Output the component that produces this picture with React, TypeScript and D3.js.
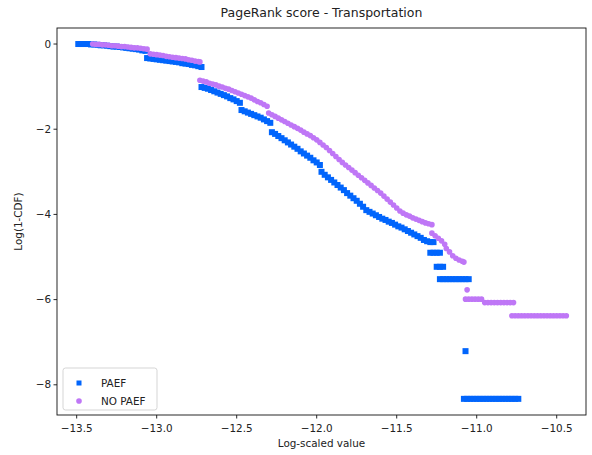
import React from "react";
import * as d3 from "d3";

// log(1-CDF) vs log-scaled PageRank value
const paef: [number, number][] = [
  [-13.49, 0], [-13.47, 0], [-13.45, 0], [-13.43, 0], [-13.41, -0.01], [-13.39, -0.01],
  [-13.37, -0.02], [-13.35, -0.03], [-13.33, -0.03], [-13.31, -0.04], [-13.29, -0.05],
  [-13.27, -0.06], [-13.25, -0.06], [-13.23, -0.07], [-13.21, -0.08], [-13.19, -0.09],
  [-13.17, -0.1], [-13.15, -0.11], [-13.13, -0.12], [-13.11, -0.13], [-13.09, -0.15], [-13.07, -0.16],
  [-13.06, -0.33], [-13.04, -0.34], [-13.02, -0.35], [-13.0, -0.36], [-12.98, -0.37], [-12.96, -0.38],
  [-12.94, -0.39], [-12.92, -0.4], [-12.9, -0.41], [-12.88, -0.42], [-12.86, -0.43], [-12.84, -0.45],
  [-12.82, -0.46], [-12.8, -0.47], [-12.78, -0.49], [-12.76, -0.5], [-12.74, -0.52], [-12.72, -0.54],
  [-12.72, -1.01], [-12.7, -1.03], [-12.68, -1.05], [-12.66, -1.08], [-12.64, -1.11], [-12.62, -1.14],
  [-12.6, -1.17], [-12.58, -1.2], [-12.56, -1.23], [-12.54, -1.27], [-12.52, -1.3], [-12.5, -1.34],
  [-12.48, -1.38],
  [-12.47, -1.55], [-12.45, -1.58], [-12.43, -1.61], [-12.41, -1.64], [-12.39, -1.67], [-12.37, -1.7],
  [-12.35, -1.73], [-12.33, -1.77], [-12.31, -1.81], [-12.29, -1.85],
  [-12.28, -2.07], [-12.26, -2.11], [-12.24, -2.16], [-12.22, -2.21], [-12.2, -2.26], [-12.18, -2.31],
  [-12.16, -2.36], [-12.14, -2.41], [-12.12, -2.46], [-12.1, -2.52], [-12.08, -2.57], [-12.06, -2.62],
  [-12.04, -2.67], [-12.02, -2.73], [-12.0, -2.78], [-11.98, -2.84],
  [-11.97, -3.0], [-11.95, -3.07], [-11.93, -3.13], [-11.91, -3.19], [-11.89, -3.25], [-11.87, -3.31],
  [-11.85, -3.37], [-11.83, -3.43], [-11.81, -3.5], [-11.79, -3.56], [-11.77, -3.62], [-11.75, -3.68],
  [-11.73, -3.75], [-11.71, -3.82], [-11.69, -3.9], [-11.67, -3.94], [-11.65, -3.98], [-11.63, -4.02],
  [-11.61, -4.06], [-11.59, -4.1], [-11.57, -4.13], [-11.55, -4.17], [-11.53, -4.2], [-11.51, -4.24],
  [-11.49, -4.28], [-11.47, -4.31], [-11.45, -4.35], [-11.43, -4.39], [-11.41, -4.43], [-11.39, -4.47],
  [-11.37, -4.51], [-11.35, -4.55], [-11.33, -4.6], [-11.31, -4.63], [-11.29, -4.65], [-11.27, -4.65],
  [-11.29, -4.9], [-11.27, -4.9], [-11.25, -4.9], [-11.23, -4.9],
  [-11.25, -5.23], [-11.23, -5.23], [-11.21, -5.23],
  [-11.23, -5.52], [-11.21, -5.52], [-11.19, -5.52], [-11.17, -5.52], [-11.15, -5.52], [-11.13, -5.52],
  [-11.11, -5.52], [-11.09, -5.52], [-11.07, -5.52], [-11.05, -5.52],
  [-11.07, -7.21],
  [-11.08, -8.33], [-11.06, -8.33], [-11.04, -8.33], [-11.02, -8.33], [-11.0, -8.33], [-10.98, -8.33],
  [-10.96, -8.33], [-10.94, -8.33], [-10.92, -8.33], [-10.9, -8.33], [-10.88, -8.33], [-10.86, -8.33],
  [-10.84, -8.33], [-10.82, -8.33], [-10.8, -8.33], [-10.78, -8.33], [-10.76, -8.33], [-10.74, -8.33],
];

const noPaef: [number, number][] = [
  [-13.4, 0], [-13.38, -0.01], [-13.36, -0.01], [-13.34, -0.02], [-13.32, -0.02], [-13.3, -0.03],
  [-13.28, -0.04], [-13.26, -0.04], [-13.24, -0.05], [-13.22, -0.06], [-13.2, -0.06], [-13.18, -0.07],
  [-13.16, -0.08], [-13.14, -0.09], [-13.12, -0.09], [-13.1, -0.1], [-13.08, -0.11], [-13.06, -0.12],
  [-13.04, -0.23], [-13.02, -0.24], [-13.0, -0.25], [-12.98, -0.26], [-12.96, -0.27], [-12.94, -0.29],
  [-12.92, -0.3], [-12.9, -0.31], [-12.88, -0.32], [-12.86, -0.33], [-12.84, -0.34], [-12.82, -0.35],
  [-12.8, -0.37], [-12.78, -0.38], [-12.76, -0.4], [-12.74, -0.41], [-12.73, -0.42],
  [-12.73, -0.85], [-12.71, -0.87], [-12.69, -0.89], [-12.67, -0.92], [-12.65, -0.94], [-12.63, -0.96],
  [-12.61, -0.99], [-12.59, -1.01], [-12.57, -1.04], [-12.55, -1.06], [-12.53, -1.09], [-12.51, -1.12],
  [-12.49, -1.15], [-12.47, -1.18], [-12.45, -1.21], [-12.43, -1.24], [-12.41, -1.27], [-12.39, -1.31],
  [-12.37, -1.35], [-12.35, -1.38], [-12.33, -1.42], [-12.31, -1.46],
  [-12.3, -1.62], [-12.28, -1.66], [-12.26, -1.7], [-12.24, -1.74], [-12.22, -1.78], [-12.2, -1.82],
  [-12.18, -1.86], [-12.16, -1.9], [-12.14, -1.94], [-12.12, -1.98], [-12.1, -2.02], [-12.08, -2.07],
  [-12.06, -2.11], [-12.04, -2.15], [-12.02, -2.2], [-12.0, -2.25],
  [-11.98, -2.31], [-11.96, -2.37], [-11.94, -2.43], [-11.92, -2.5], [-11.9, -2.57], [-11.88, -2.64],
  [-11.86, -2.71], [-11.84, -2.78], [-11.82, -2.84], [-11.8, -2.9], [-11.78, -2.96], [-11.76, -3.02],
  [-11.74, -3.08], [-11.72, -3.14], [-11.7, -3.2], [-11.68, -3.26], [-11.66, -3.32], [-11.64, -3.38],
  [-11.62, -3.44], [-11.6, -3.5], [-11.58, -3.57], [-11.56, -3.64], [-11.54, -3.71], [-11.52, -3.78],
  [-11.5, -3.85], [-11.48, -3.92], [-11.46, -3.97], [-11.44, -4.01], [-11.42, -4.04], [-11.4, -4.08],
  [-11.38, -4.11], [-11.36, -4.14], [-11.34, -4.17], [-11.32, -4.2], [-11.3, -4.22], [-11.28, -4.24],
  [-11.28, -4.44], [-11.26, -4.5], [-11.24, -4.56], [-11.22, -4.62], [-11.2, -4.7], [-11.19, -4.8],
  [-11.17, -4.88], [-11.15, -4.97], [-11.13, -5.03], [-11.11, -5.07], [-11.09, -5.1], [-11.08, -5.12],
  [-11.06, -5.77],
  [-11.07, -5.99], [-11.05, -5.99], [-11.03, -5.99], [-11.01, -5.99], [-10.99, -5.99], [-10.97, -5.99],
  [-10.95, -6.07], [-10.93, -6.07], [-10.91, -6.07], [-10.89, -6.07], [-10.87, -6.07], [-10.85, -6.07],
  [-10.83, -6.07], [-10.81, -6.07], [-10.79, -6.07], [-10.77, -6.07],
  [-10.78, -6.38], [-10.76, -6.38], [-10.74, -6.38], [-10.72, -6.38], [-10.7, -6.38], [-10.68, -6.38],
  [-10.66, -6.38], [-10.64, -6.38], [-10.62, -6.38], [-10.6, -6.38], [-10.58, -6.38], [-10.56, -6.38],
  [-10.54, -6.38], [-10.52, -6.38], [-10.5, -6.38], [-10.48, -6.38], [-10.46, -6.38], [-10.44, -6.38],
];

const xTicks = [-13.5, -13.0, -12.5, -12.0, -11.5, -11.0, -10.5];
const yTicks = [0, -2, -4, -6, -8];
const seriesNames = ["PAEF", "NO PAEF"];

const blue = "#0165fc";
const purple = "#bf77f6";
const font = "DejaVu Sans, sans-serif";

const fmt = (v: number, digits: number) =>
  (v < 0 ? "\u2212" : "") + Math.abs(v).toFixed(digits);

export default function App() {
  const left = 57, right = 586, top = 28, bottom = 415;

  const x = d3.scaleLinear().domain([-13.623, -10.317]).range([left, right]);
  const y = d3.scaleLinear().domain([-8.709, 0.376]).range([bottom, top]);

  const sq = 6;
  const circle = d3.symbol().type(d3.symbolCircle).size(25)();

  return (
    <svg width={592} height={455} style={{ position: "absolute", left: 0, top: 0, background: "#fff" }}
      fontFamily={font}>
      <text x={(left + right) / 2} y={17} textAnchor="middle" fontSize={12.5} fill="#222">
        PageRank score - Transportation
      </text>

      <g>
        {paef.map((d, i) => (
          <rect key={"p" + i} x={x(d[0]) - sq / 2} y={y(d[1]) - sq / 2} width={sq} height={sq} fill={blue} />
        ))}
        {noPaef.map((d, i) => (
          <path key={"n" + i} d={circle} transform={`translate(${x(d[0])},${y(d[1])})`} fill={purple} />
        ))}
      </g>

      <rect x={left} y={top} width={right - left} height={bottom - top} fill="none" stroke="#111" strokeWidth={0.9} />

      {xTicks.map((t) => (
        <g key={"xt" + t} transform={`translate(${x(t)},${bottom})`}>
          <line y2={3.5} stroke="#111" strokeWidth={0.9} />
          <text y={17} textAnchor="middle" fontSize={10.4} fill="#222">{fmt(t, 1)}</text>
        </g>
      ))}
      {yTicks.map((t) => (
        <g key={"yt" + t} transform={`translate(${left},${y(t)})`}>
          <line x2={-3.5} stroke="#111" strokeWidth={0.9} />
          <text x={-6} dy="0.35em" textAnchor="end" fontSize={10.4} fill="#222">{fmt(t, 0)}</text>
        </g>
      ))}

      <text x={(left + right) / 2} y={447} textAnchor="middle" fontSize={10.4} fill="#222">Log-scaled value</text>
      <text transform={`translate(22,${(top + bottom) / 2}) rotate(-90)`} textAnchor="middle" fontSize={10.4} fill="#222">
        Log(1-CDF)
      </text>

      <g>
        <rect x={63} y={368} width={94} height={42} rx={2.5} fill="#fff" fillOpacity={0.8} stroke="#d0d0d0" strokeWidth={0.9} />
        <rect x={79 - 2.5} y={383 - 2.5} width={5} height={5} fill={blue} />
        <text x={101} y={383} dy="0.35em" fontSize={10.4} fill="#222">{seriesNames[0]}</text>
        <path d={circle} transform="translate(79,401)" fill={purple} />
        <text x={101} y={401} dy="0.35em" fontSize={10.4} fill="#222">{seriesNames[1]}</text>
      </g>
    </svg>
  );
}
